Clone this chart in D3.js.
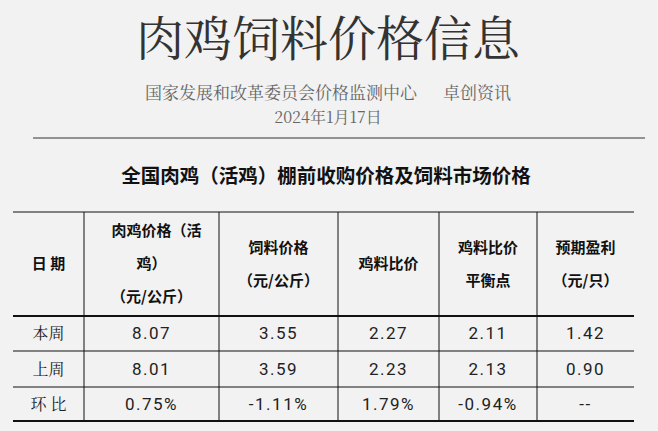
<!DOCTYPE html>
<html><head><meta charset="utf-8">
<script src="https://cdn.jsdelivr.net/npm/d3@7"></script>
<style>body{margin:0;background:#f2f2f2}</style></head>
<body><svg id="c" width="658" height="431"></svg>
<script>
const headers = [["日 期"], ["肉鸡价格（活", "鸡）", "（元/公斤）"], ["饲料价格", "（元/公斤）"], ["鸡料比价"], ["鸡料比价", "平衡点"], ["预期盈利", "（元/只）"]];
const rowLabels = ["本周", "上周", "环 比"];
const thisWeek = ["8.07", "3.55", "2.27", "2.11", "1.42"];
const lastWeek = ["8.01", "3.59", "2.23", "2.13", "0.90"];
const change = ["0.75%", "-1.11%", "1.79%", "-0.94%", "--"];
const rows = [thisWeek, lastWeek, change];

const svg = d3.select("#c");
const serif = "'Noto Serif CJK SC','Noto Sans CJK SC',serif";
const cjk = "'Noto Sans CJK SC',sans-serif";
svg.append("rect").attr("width", 658).attr("height", 431).attr("fill", "#f2f2f2");

svg.append("text").attr("x", 328).attr("y", 56).attr("text-anchor", "middle")
  .attr("font-family", serif).attr("font-size", 48).attr("fill", "#333").text("肉鸡饲料价格信息");
svg.append("text").attr("x", 328).attr("y", 99).attr("text-anchor", "middle")
  .attr("font-family", serif).attr("font-size", 17).attr("fill", "#666").attr("xml:space", "preserve")
  .text("国家发展和改革委员会价格监测中心      卓创资讯");
svg.append("text").attr("x", 328).attr("y", 123).attr("text-anchor", "middle")
  .attr("font-family", serif).attr("font-size", 16).attr("fill", "#666").text("2024年1月17日");
svg.append("line").attr("x1", 33).attr("x2", 645).attr("y1", 138).attr("y2", 138).attr("stroke", "#333");
svg.append("text").attr("x", 326).attr("y", 183).attr("text-anchor", "middle")
  .attr("font-family", cjk).attr("font-weight", "bold").attr("font-size", 19.5).attr("fill", "#111")
  .text("全国肉鸡（活鸡）棚前收购价格及饲料市场价格");

const colEdges = [13, 84, 219, 338, 439, 537, 634];
const x = d3.scaleOrdinal().domain(d3.range(6)).range(d3.range(6).map(i => (colEdges[i] + colEdges[i + 1]) / 2));
const rowEdges = [212, 316, 351, 387, 421];
const y = d3.scaleOrdinal().domain(d3.range(4)).range(d3.range(4).map(i => (rowEdges[i] + rowEdges[i + 1]) / 2));

rowEdges.forEach((ry, i) => svg.append("line").attr("x1", colEdges[0]).attr("x2", colEdges[6])
  .attr("y1", ry).attr("y2", ry).attr("stroke", "#111").attr("stroke-width", (i == 1 || i == 4) ? 2 : 1));
colEdges.slice(1, 6).forEach(cx => svg.append("line").attr("x1", cx).attr("x2", cx)
  .attr("y1", rowEdges[0]).attr("y2", rowEdges[4]).attr("stroke", "#111"));

headers.forEach((h, i) => {
  const lh = 33, y0 = y(0) - (h.length - 1) * lh / 2;
  h.forEach((t, j) => svg.append("text").attr("x", x(i) + (j == 0 && h.length == 3 ? 5 : 0)).attr("y", y0 + j * lh)
    .attr("dy", "0.35em").attr("text-anchor", "middle").attr("font-family", cjk)
    .attr("font-weight", "bold").attr("font-size", 15).attr("fill", "#111").text(t));
});
rowLabels.forEach((l, r) => svg.append("text").attr("x", x(0)).attr("y", y(r + 1)).attr("dy", "0.35em")
  .attr("text-anchor", "middle").attr("font-family", serif).attr("font-size", 16).attr("fill", "#222").text(l));
rows.forEach((row, r) => row.forEach((v, c) => svg.append("text").attr("x", x(c + 1)).attr("y", y(r + 1))
  .attr("dy", "0.35em").attr("text-anchor", "middle").attr("font-family", "'Liberation Sans Narrow','Roboto',sans-serif")
  .attr("font-size", 17).attr("letter-spacing", 1.5).attr("fill", "#222").text(v)));
</script></body></html>
